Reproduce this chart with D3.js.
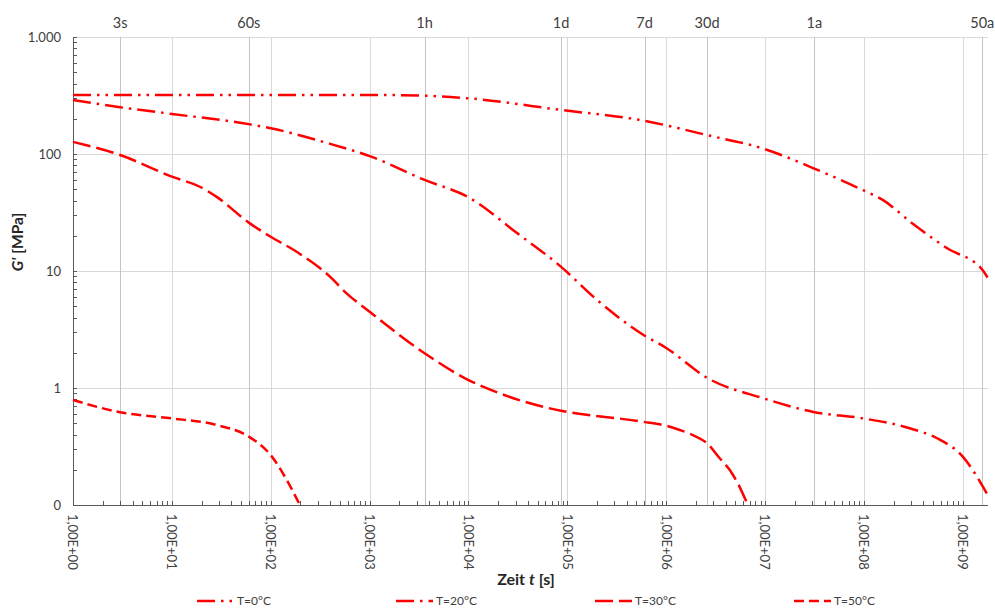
<!DOCTYPE html>
<html>
<head>
<meta charset="utf-8">
<script src="https://cdn.jsdelivr.net/npm/d3@7"></script>
<style>
    body { margin: 0; background: #fff; }
    svg { display: block; font-family: Lato, "Open Sans", sans-serif; }
</style>
</head>
<body>
<svg id="chart" width="995" height="608"></svg>
<script>
"use strict";

var tT0 = [1, 10, 100, 1000, 3600, 1e4, 8.6e4, 5.9e5, 2.6e6, 1e7, 3.1e7, 9.8e7, 1.55e8, 3.1e8, 6.9e8, 1.6e9, 1.78e9];
var gT0 = [319, 320, 320, 320, 315, 299, 238, 193, 145, 110, 75.5, 49, 40.5, 25.5, 15.7, 10.1, 8.8];

var tT20 = [1, 3, 10, 60, 100, 400, 1000, 3600, 1e4, 3.1e4, 8.6e4, 2e5, 5.9e5, 1e6, 2.6e6, 9.5e6, 3e7, 9.8e7, 2.9e8, 5.5e8, 1e9, 1.75e9];
var gT20 = [290, 251, 220, 180, 166, 122, 96, 60, 42.7, 21.1, 10.9, 5.65, 2.84, 2.2, 1.22, 0.82, 0.627, 0.55, 0.453, 0.372, 0.259, 0.126];

var tT30 = [1, 3, 10, 19.2, 28.4, 60, 100, 183, 400, 585, 1000, 3600, 1e4, 2.07e4, 6.65e4, 8.6e4, 5.8e5, 1e6, 1.37e6, 1.86e6, 2.6e6, 3.48e6, 4.4e6, 5.2e6, 6.7e6];
var gT30 = [127, 98, 64, 52.5, 43, 25.9, 19.6, 14.6, 8.9, 6.44, 4.49, 1.98, 1.17, 0.90, 0.67, 0.64, 0.515, 0.476, 0.438, 0.396, 0.336, 0.251, 0.199, 0.158, 0.1];

var tT50 = [1, 3, 10, 28.4, 60, 100, 145, 197];
var gT50 = [0.79, 0.62, 0.55, 0.483, 0.384, 0.267, 0.164, 0.1];

var seriesNames = ["T=0°C", "T=20°C", "T=30°C", "T=50°C"];

// Achsen
var xTickValues = [1, 1e1, 1e2, 1e3, 1e4, 1e5, 1e6, 1e7, 1e8, 1e9];
var xTickLabels = ["1,00E+00", "1,00E+01", "1,00E+02", "1,00E+03", "1,00E+04",
                   "1,00E+05", "1,00E+06", "1,00E+07", "1,00E+08", "1,00E+09"];
var yTickValues = [0.1, 1, 10, 100, 1000];
var yTickLabels = ["0", "1", "10", "100", "1.000"];

// Zeitmarken oben
var markTimes = [3, 60, 3600, 86400, 604800, 2592000, 31536000, 1576800000];
var markLabels = ["3s", "60s", "1h", "1d", "7d", "30d", "1a", "50a"];

var xMin = 1, xMax = 1.8e9;
var yMin = 0.1, yMax = 1000;

var m = { left: 73, right: 988, top: 37, bottom: 505 };

var svg = d3.select("#chart");

var x = d3.scaleLog().domain([xMin, xMax]).range([m.left, m.right]);
var y = d3.scaleLog().domain([yMin, yMax]).range([m.bottom, m.top]);

// Gitter
var grid = svg.append("g");
grid.selectAll("line.h")
    .data(yTickValues.slice(1))
    .enter().append("line")
    .attr("x1", m.left).attr("x2", m.right)
    .attr("y1", d => Math.round(y(d)) + 0.5).attr("y2", d => Math.round(y(d)) + 0.5)
    .attr("stroke", "#d9d9d9");

grid.selectAll("line.v")
    .data(xTickValues.slice(1))
    .enter().append("line")
    .attr("x1", d => Math.round(x(d)) + 0.5).attr("x2", d => Math.round(x(d)) + 0.5)
    .attr("y1", m.top).attr("y2", m.bottom)
    .attr("stroke", "#d9d9d9");

grid.selectAll("line.m")
    .data(markTimes)
    .enter().append("line")
    .attr("x1", d => Math.round(x(d)) + 0.5).attr("x2", d => Math.round(x(d)) + 0.5)
    .attr("y1", m.top).attr("y2", m.bottom)
    .attr("stroke", "#c4c4c4");

svg.append("g").selectAll("text")
    .data(markTimes)
    .enter().append("text")
    .attr("x", d => x(d))
    .attr("y", 28)
    .attr("text-anchor", "middle")
    .attr("font-size", 14.5)
    .attr("fill", "#404040")
    .text((d, i) => markLabels[i]);

// Nebenteilstriche
var xMinor = [];
for (var e = 0; e <= 9; e++) {
    for (var k = 1; k <= 9; k++) {
        var v = k * Math.pow(10, e);
        if (v <= xMax) xMinor.push(v);
    }
}
var yMinor = [];
for (var e2 = -1; e2 <= 3; e2++) {
    for (var k2 = 1; k2 <= 9; k2++) {
        var v2 = k2 * Math.pow(10, e2);
        if (v2 <= yMax) yMinor.push(v2);
    }
}

var axes = svg.append("g").attr("stroke", "#595959");
axes.selectAll("line.xt")
    .data(xMinor)
    .enter().append("line")
    .attr("x1", d => Math.round(x(d)) + 0.5).attr("x2", d => Math.round(x(d)) + 0.5)
    .attr("y1", m.bottom - 4).attr("y2", m.bottom);
axes.selectAll("line.yt")
    .data(yMinor)
    .enter().append("line")
    .attr("x1", m.left).attr("x2", m.left + 4)
    .attr("y1", d => Math.round(y(d)) + 0.5).attr("y2", d => Math.round(y(d)) + 0.5);

axes.append("line")
    .attr("x1", m.left + 0.5).attr("x2", m.left + 0.5)
    .attr("y1", m.top).attr("y2", m.bottom);
axes.append("line")
    .attr("x1", m.left).attr("x2", m.right)
    .attr("y1", m.bottom + 0.5).attr("y2", m.bottom + 0.5);

// Beschriftung
svg.append("g").selectAll("text")
    .data(yTickValues)
    .enter().append("text")
    .attr("x", 61)
    .attr("y", d => y(d))
    .attr("dy", "0.35em")
    .attr("text-anchor", "end")
    .attr("font-size", 13)
    .attr("fill", "#404040")
    .text((d, i) => yTickLabels[i]);

svg.append("g").selectAll("text")
    .data(xTickValues)
    .enter().append("text")
    .attr("transform", d => `translate(${x(d)}, 514) rotate(90)`)
    .attr("dy", "0.35em")
    .attr("font-size", 13)
    .attr("fill", "#404040")
    .text((d, i) => xTickLabels[i]);

var xTitle = svg.append("text")
    .attr("x", 526).attr("y", 585)
    .attr("text-anchor", "middle")
    .attr("font-size", 16)
    .attr("font-weight", "bold")
    .attr("fill", "#262626");
xTitle.append("tspan").text("Zeit ");
xTitle.append("tspan").attr("font-style", "italic").text("t");
xTitle.append("tspan").text(" [s]");

var yTitle = svg.append("text")
    .attr("transform", "translate(23, 242) rotate(-90)")
    .attr("text-anchor", "middle")
    .attr("font-size", 15.5)
    .attr("font-weight", "bold")
    .attr("fill", "#262626");
yTitle.append("tspan").attr("font-style", "italic").text("G'");
yTitle.append("tspan").text(" [MPa]");

// Kurven
var dashes = ["18,6,2.5,6,2.5,6", "18,6,2.5,6", "18,6", "10,5"];
var series = [
    { t: tT0, g: gT0 },
    { t: tT20, g: gT20 },
    { t: tT30, g: gT30 },
    { t: tT50, g: gT50 }
];

var line = d3.line()
    .x(d => x(d[0]))
    .y(d => y(d[1]))
    .curve(d3.curveMonotoneX);

svg.append("g").selectAll("path")
    .data(series)
    .enter().append("path")
    .attr("d", s => line(s.t.map((t, i) => [t, s.g[i]])))
    .attr("fill", "none")
    .attr("stroke", "#ff0000")
    .attr("stroke-width", 2.5)
    .attr("stroke-dasharray", (s, i) => dashes[i]);

// Legende
var legend = svg.append("g").selectAll("g")
    .data(seriesNames)
    .enter().append("g")
    .attr("transform", (d, i) => `translate(${197 + i * 199}, 601)`);
legend.append("line")
    .attr("x1", 0).attr("x2", 37)
    .attr("stroke", "#ff0000")
    .attr("stroke-width", 2.5)
    .attr("stroke-dasharray", (d, i) => dashes[i]);
legend.append("text")
    .attr("x", 40)
    .attr("dy", "0.35em")
    .attr("font-size", 12)
    .attr("fill", "#404040")
    .text(d => d);
</script>
</body>
</html>
